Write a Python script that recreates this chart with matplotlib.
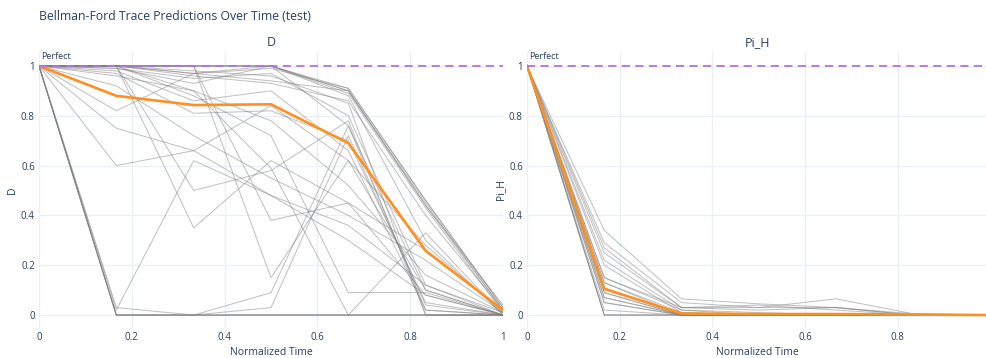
import matplotlib
matplotlib.use("Agg")
import matplotlib.pyplot as plt

plt.rcParams['font.family'] = ['Open Sans', 'DejaVu Sans']

# normalized time steps
t = [0, 1/6, 2/6, 3/6, 4/6, 5/6, 1]

# D: per-sample trace accuracy over time
d_traces = [
    [1.00, 0.00, 0.00, 0.00, 0.00, 0.00, 0.00],
    [1.00, 0.00, 0.00, 0.00, 0.00, 0.00, 0.00],
    [1.00, 0.00, 0.00, 0.00, 0.00, 0.00, 0.00],
    [1.00, 0.03, 0.00, 0.00, 0.00, 0.00, 0.00],
    [1.00, 0.00, 0.00, 0.09, 0.76, 0.10, 0.00],
    [1.00, 0.00, 0.00, 0.03, 0.72, 0.04, 0.00],
    [1.00, 0.02, 0.62, 0.48, 0.30, 0.08, 0.00],
    [1.00, 1.00, 1.00, 1.00, 0.91, 0.46, 0.03],
    [1.00, 1.00, 1.00, 1.00, 0.90, 0.45, 0.02],
    [1.00, 1.00, 1.00, 1.00, 0.90, 0.44, 0.04],
    [1.00, 1.00, 1.00, 1.00, 0.89, 0.43, 0.01],
    [1.00, 1.00, 0.97, 0.99, 0.91, 0.46, 0.03],
    [1.00, 1.00, 0.97, 0.94, 0.90, 0.44, 0.02],
    [1.00, 1.00, 0.96, 0.93, 0.86, 0.40, 0.02],
    [1.00, 0.82, 0.97, 1.00, 0.88, 0.30, 0.00],
    [1.00, 0.99, 0.93, 1.00, 0.76, 0.02, 0.00],
    [1.00, 0.99, 0.95, 0.97, 0.80, 0.12, 0.01],
    [1.00, 0.60, 0.66, 0.84, 0.62, 0.28, 0.01],
    [1.00, 0.75, 0.66, 0.48, 0.36, 0.12, 0.00],
    [1.00, 0.97, 0.81, 0.82, 0.70, 0.05, 0.00],
    [1.00, 1.00, 0.35, 0.62, 0.45, 0.08, 0.00],
    [1.00, 1.00, 0.50, 0.58, 0.78, 0.00, 0.00],
    [1.00, 1.00, 1.00, 0.15, 0.62, 0.10, 0.00],
    [1.00, 1.00, 1.00, 0.38, 0.45, 0.26, 0.02],
    [1.00, 0.96, 0.90, 0.59, 0.00, 0.33, 0.00],
    [1.00, 1.00, 0.88, 0.72, 0.09, 0.09, 0.00],
    [1.00, 0.92, 0.72, 0.55, 0.40, 0.22, 0.01],
    [1.00, 1.00, 0.98, 0.96, 0.85, 0.00, 0.00],
    [1.00, 0.98, 0.86, 0.90, 0.66, 0.02, 0.00],
    [1.00, 1.00, 0.90, 0.78, 0.52, 0.16, 0.01],
]
d_mean = [1.00, 0.88, 0.843, 0.846, 0.69, 0.258, 0.02]

# Pi_H
pi_traces = [
    [1.00, 0.34, 0.065, 0.045, 0.030, 0.005, 0.00],
    [1.00, 0.29, 0.050, 0.030, 0.065, 0.005, 0.00],
    [1.00, 0.27, 0.030, 0.040, 0.020, 0.000, 0.00],
    [1.00, 0.25, 0.030, 0.020, 0.030, 0.000, 0.00],
    [1.00, 0.22, 0.020, 0.010, 0.000, 0.000, 0.00],
    [1.00, 0.20, 0.010, 0.000, 0.000, 0.000, 0.00],
    [1.00, 0.15, 0.030, 0.030, 0.030, 0.000, 0.00],
    [1.00, 0.15, 0.020, 0.000, 0.000, 0.000, 0.00],
    [1.00, 0.13, 0.000, 0.000, 0.000, 0.000, 0.00],
    [1.00, 0.13, 0.010, 0.000, 0.000, 0.000, 0.00],
    [1.00, 0.11, 0.000, 0.000, 0.000, 0.000, 0.00],
    [1.00, 0.09, 0.000, 0.000, 0.000, 0.000, 0.00],
    [1.00, 0.09, 0.000, 0.000, 0.000, 0.000, 0.00],
    [1.00, 0.07, 0.000, 0.000, 0.000, 0.000, 0.00],
    [1.00, 0.07, 0.000, 0.000, 0.000, 0.000, 0.00],
    [1.00, 0.05, 0.000, 0.000, 0.000, 0.000, 0.00],
    [1.00, 0.05, 0.000, 0.000, 0.000, 0.000, 0.00],
    [1.00, 0.02, 0.000, 0.000, 0.000, 0.000, 0.00],
    [1.00, 0.00, 0.000, 0.000, 0.000, 0.000, 0.00],
    [1.00, 0.00, 0.000, 0.000, 0.000, 0.000, 0.00],
    [1.00, 0.00, 0.000, 0.000, 0.000, 0.000, 0.00],
]
pi_mean = [1.00, 0.105, 0.006, 0.004, 0.004, 0.002, 0.00]

d_xticks = [0, 0.2, 0.4, 0.6, 0.8, 1]
d_xtick_labels = ['0', '0.2', '0.4', '0.6', '0.8', '1']
pi_xticks = [0, 0.2, 0.4, 0.6, 0.8]
pi_xtick_labels = ['0', '0.2', '0.4', '0.6', '0.8']
yticks = [0, 0.2, 0.4, 0.6, 0.8, 1]
ytick_labels = ['0', '0.2', '0.4', '0.6', '0.8', '1']

text_col = '#2a3f5f'
grid_col = '#ebf0f8'

fig = plt.figure(figsize=(9.87, 3.58), dpi=100)
ax1 = fig.add_axes([39/987, 30/358, 464/987, 276/358])
ax2 = fig.add_axes([527/987, 30/358, 460/987, 276/358])

panels = [(ax1, d_traces, d_mean, 'D', 1.0, d_xticks, d_xtick_labels),
          (ax2, pi_traces, pi_mean, 'Pi_H', 460/463.5, pi_xticks, pi_xtick_labels)]

for ax, traces, mean, name, xmax, xt, xtl in panels:
    for tr in traces:
        ax.plot(t, tr, color='#808080', alpha=0.48, lw=0.75, zorder=2)
    ax.plot(t, mean, color='#ff8f1f', lw=1.9, zorder=3)
    ax.axhline(1, color='#b272dc', lw=1.3, dashes=(4.5, 3), zorder=4)
    ax.text(0.004, 1.018, 'Perfect', fontsize=6.5, color=text_col, ha='left', va='bottom')

    ax.set_xlim(0, xmax)
    ax.set_ylim(-0.052, 1.056)
    ax.set_xticks(xt)
    ax.set_xticklabels(xtl)
    ax.set_yticks(yticks)
    ax.set_yticklabels(ytick_labels)
    ax.tick_params(length=0, labelsize=7, labelcolor=text_col, pad=3)
    ax.tick_params(axis='x', pad=3)
    ax.grid(True, color=grid_col, lw=1, zorder=0)
    ax.set_axisbelow(True)
    for s in ax.spines.values():
        s.set_visible(False)
    ax.set_title(name, fontsize=9, color=text_col, pad=4)
    ax.set_xlabel('Normalized Time', fontsize=7.5, color=text_col, labelpad=3)
    ax.set_ylabel(name, fontsize=7.5, color=text_col, labelpad=2)

fig.text(39/987, 1 - 17/358, 'Bellman-Ford Trace Predictions Over Time (test)',
         fontsize=8.8, color=text_col, ha='left', va='center')

fig.savefig('out.png', dpi=100)
